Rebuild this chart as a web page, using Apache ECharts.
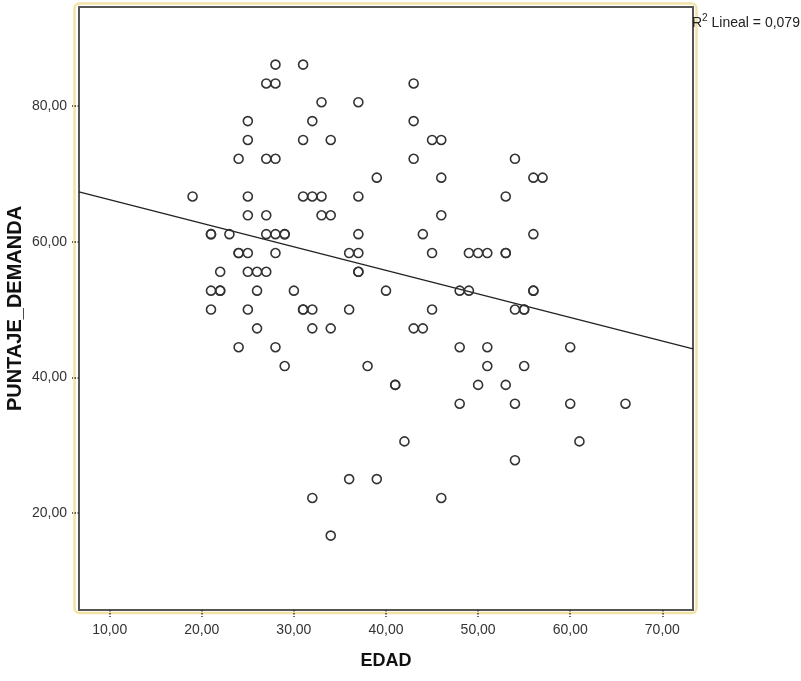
<!DOCTYPE html>
<html>
<head>
<meta charset="utf-8">
<script src="https://cdn.jsdelivr.net/npm/echarts@6/dist/echarts.min.js"></script>
<style>
html,body{margin:0;padding:0;background:#fff;}
#chart{width:801px;height:681px;}
</style>
</head>
<body>
<div id="chart"></div>
<script>
// Observed points (EDAD, PUNTAJE_DEMANDA)
const edad = [
  28, 31,
  27, 28, 43,
  33, 37,
  25, 32, 43,
  25, 31, 34, 45, 46,
  24, 27, 28, 43, 54,
  39, 46, 56, 57,
  19, 25, 31, 32, 33, 37, 53,
  25, 27, 33, 34, 46,
  21, 21, 23, 27, 28, 29, 29, 37, 44, 56,
  24, 24, 25, 28, 36, 37, 45, 49, 50, 51, 53, 53,
  22, 25, 26, 27, 37, 37,
  21, 22, 22, 26, 30, 40, 48, 49, 56, 56,
  21, 25, 31, 31, 32, 36, 45, 54, 55, 55,
  26, 32, 34, 43, 44,
  24, 28, 48, 51, 60,
  29, 38, 51, 55,
  41, 41, 50, 53,
  48, 54, 60, 66,
  42, 61,
  54,
  36, 39,
  32, 46,
  34
];
const puntaje = [
  86.11, 86.11,
  83.33, 83.33, 83.33,
  80.56, 80.56,
  77.78, 77.78, 77.78,
  75.00, 75.00, 75.00, 75.00, 75.00,
  72.22, 72.22, 72.22, 72.22, 72.22,
  69.44, 69.44, 69.44, 69.44,
  66.67, 66.67, 66.67, 66.67, 66.67, 66.67, 66.67,
  63.89, 63.89, 63.89, 63.89, 63.89,
  61.11, 61.11, 61.11, 61.11, 61.11, 61.11, 61.11, 61.11, 61.11, 61.11,
  58.33, 58.33, 58.33, 58.33, 58.33, 58.33, 58.33, 58.33, 58.33, 58.33, 58.33, 58.33,
  55.56, 55.56, 55.56, 55.56, 55.56, 55.56,
  52.78, 52.78, 52.78, 52.78, 52.78, 52.78, 52.78, 52.78, 52.78, 52.78,
  50.00, 50.00, 50.00, 50.00, 50.00, 50.00, 50.00, 50.00, 50.00, 50.00,
  47.22, 47.22, 47.22, 47.22, 47.22,
  44.44, 44.44, 44.44, 44.44, 44.44,
  41.67, 41.67, 41.67, 41.67,
  38.89, 38.89, 38.89, 38.89,
  36.11, 36.11, 36.11, 36.11,
  30.56, 30.56,
  27.78,
  25.00, 25.00,
  22.22, 22.22,
  16.67
];
// Fitted linear line endpoints
const fitX = [6.67, 73.33];
const fitY = [67.36, 44.2];
// Axis ticks
const xTicks = [10, 20, 30, 40, 50, 60, 70];
const yTicks = [20, 40, 60, 80];
const xRange = [6.67, 73.33];
const yRange = [5.7, 94.6];
const r2Text = '0,079';

const fmt = v => v.toFixed(2).replace('.', ',');
const points = edad.map((x, i) => [x, puntaje[i]]);
const fitLine = fitX.map((x, i) => [x, fitY[i]]);
const FONT = '"Liberation Sans", Arial, sans-serif';

const chart = echarts.init(document.getElementById('chart'), null, {renderer: 'canvas'});
chart.setOption({
  animation: false,
  backgroundColor: '#ffffff',
  grid: {
    left: 79, right: 108, top: 7, bottom: 71,
    containLabel: false, outerBoundsMode: 'none',
    show: true, borderColor: '#555555', borderWidth: 2, backgroundColor: '#ffffff'
  },
  graphic: [
    {
      type: 'rect', z: -1, silent: true,
      shape: {x: 74.5, y: 3.5, width: 622, height: 609.5, r: 5},
      style: {fill: 'none', stroke: '#f1e3a6', lineWidth: 2.5}
    },
    {
      type: 'text', left: 692, top: 13, silent: true,
      style: {
        text: '{a|R}{s|2}{a| Lineal = ' + r2Text + '}',
        rich: {
          a: {fontSize: 14, fontFamily: FONT, fill: '#222', verticalAlign: 'bottom', lineHeight: 17},
          s: {fontSize: 10, fontFamily: FONT, fill: '#222', verticalAlign: 'top', lineHeight: 17, padding: [0, 0, 6, 0]}
        }
      }
    }
  ],
  xAxis: {
    type: 'value', min: xRange[0], max: xRange[1],
    name: 'EDAD', nameLocation: 'middle', nameGap: 42, nameMoveOverlap: false,
    nameTextStyle: {fontSize: 18, fontWeight: 'bold', fontFamily: FONT, color: '#111'},
    axisLine: {show: false},
    splitLine: {show: false},
    axisTick: {show: true, length: 7, customValues: xTicks, lineStyle: {color: '#333', type: 'dotted', width: 1.5}},
    axisLabel: {customValues: xTicks, formatter: fmt, fontSize: 14, fontFamily: FONT, color: '#333', margin: 13}
  },
  yAxis: {
    type: 'value', min: yRange[0], max: yRange[1],
    name: 'PUNTAJE_DEMANDA', nameLocation: 'middle', nameGap: 54, nameMoveOverlap: false,
    nameTextStyle: {fontSize: 20, fontWeight: 'bold', fontFamily: FONT, color: '#111'},
    axisLine: {show: false},
    splitLine: {show: false},
    axisTick: {show: true, length: 7, customValues: yTicks, lineStyle: {color: '#333', type: 'dotted', width: 1.5}},
    axisLabel: {customValues: yTicks, formatter: fmt, fontSize: 14, fontFamily: FONT, color: '#333', margin: 12}
  },
  series: [
    {
      type: 'line', data: fitLine, showSymbol: false, symbol: 'none',
      lineStyle: {color: '#222', width: 1.3}, z: 2, silent: true
    },
    {
      type: 'scatter', data: points, symbol: 'circle', symbolSize: 9,
      itemStyle: {color: 'rgba(255,255,255,0)', borderColor: '#333', borderWidth: 1.6, opacity: 1},
      z: 3
    }
  ]
});
</script>
</body>
</html>
